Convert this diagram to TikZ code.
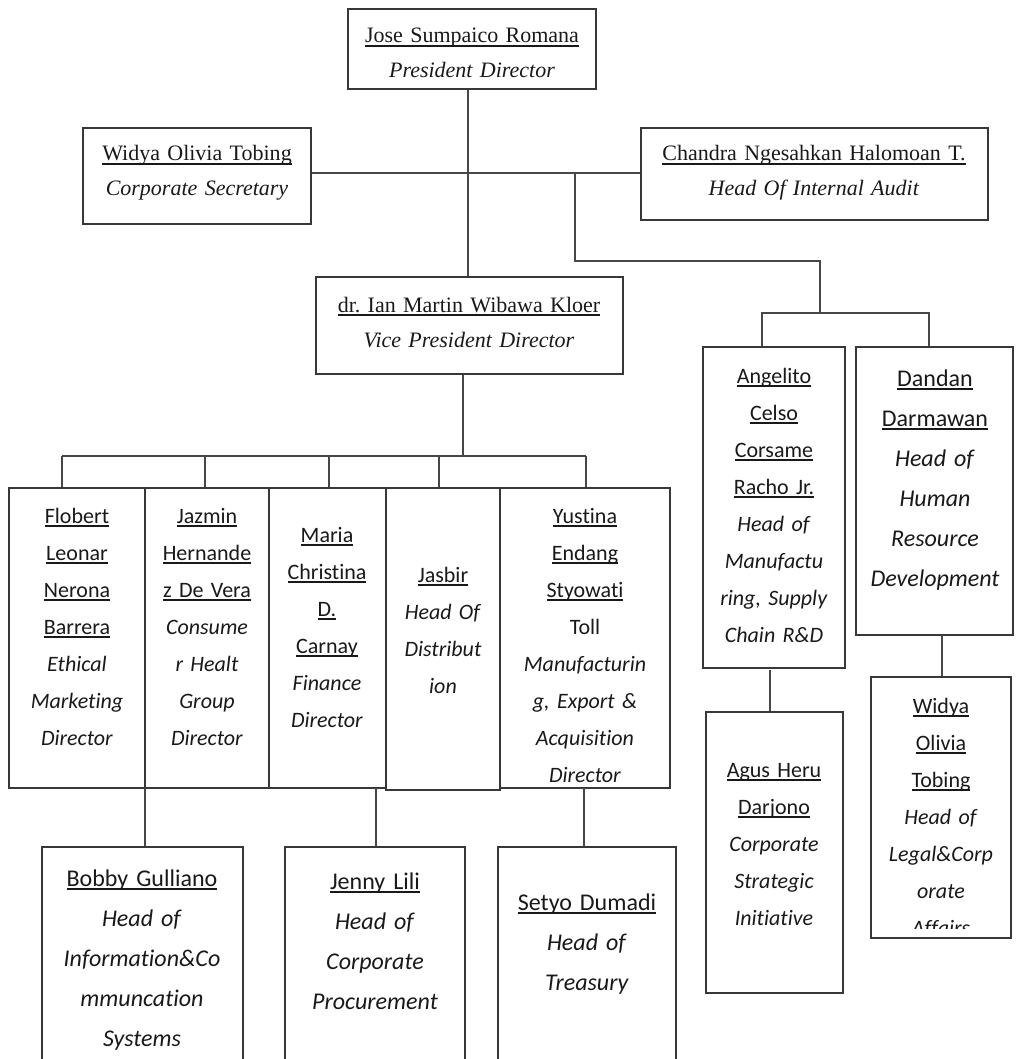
\documentclass[tikz,border=0pt]{standalone}
\usepackage{fontspec}
\setmainfont[Ligatures=NoCommon]{Carlito}
\newfontfamily\tnr{Liberation Serif}
\usetikzlibrary{fit}
\frenchspacing
\newcommand\uln[1]{\leavevmode\setbox0=\hbox{#1}\rlap{\rule[-0.16em]{\wd0}{0.07em}}\box0}
\tikzset{
 box/.style={draw=black!78, line width=1.6pt, inner sep=0pt},
 conn/.style={draw=black!72, line width=1.6pt},
 stxt/.style={inner sep=0pt, text width=190pt, align=center, anchor=base, text=black!90, font=\fontsize{22}{37}\selectfont},
 btxt/.style={stxt, font=\fontsize{24}{40}\selectfont},
 rtxt/.style={inner sep=0pt, text width=340pt, align=center, anchor=base, text=black!90, font=\tnr\fontsize{22}{35}\selectfont},
}
\begin{document}
\begin{tikzpicture}[x=1pt,y=-1pt]
\path[use as bounding box, clip] (0,0) rectangle (1016,1059);
% top level
\node[box, fit={(348,9)(596,89)}] (pres) {};
\node[rtxt] (tpres) at (472,43) {\uln{Jose Sumpaico Romana}\\\textit{President Director}};
\node[box, fit={(83,128)(311,224)}] (sec) {};
\node[rtxt] (tsec) at (197,161) {\uln{Widya Olivia Tobing}\\\textit{Corporate Secretary}};
\node[box, fit={(641,128)(988,220)}] (aud) {};
\node[rtxt] (taud) at (814,161) {\uln{Chandra Ngesahkan Halomoan T.}\\\textit{Head Of Internal Audit}};
\node[box, fit={(316,277)(623,374)}] (vp) {};
\node[rtxt] (tvp) at (469,312) {\uln{dr. Ian Martin Wibawa Kloer}\\\textit{Vice President Director}};
% directors row
\node[box, fit={(9,488)(145,788)}] (flo) {};
\node[stxt] (tflo) at (77,523) {\uln{Flobert}\\\uln{Leonar}\\\uln{Nerona}\\\uln{Barrera}\\\textit{Ethical}\\\textit{Marketing}\\\textit{Director}};
\node[box, fit={(145,488)(269,788)}] (jaz) {};
\node[stxt] (tjaz) at (207,523) {\uln{Jazmin}\\\uln{Hernande}\\\uln{z De Vera}\\\textit{Consume}\\\textit{r Healt}\\\textit{Group}\\\textit{Director}};
\node[box, fit={(269,488)(386,788)}] (mar) {};
\node[stxt] (tmar) at (327,542) {\uln{Maria}\\\uln{Christina}\\\uln{D.}\\\uln{Carnay}\\\textit{Finance}\\\textit{Director}};
\node[box, fit={(386,488)(500,790)}] (jas) {};
\node[stxt] (tjas) at (443,582) {\uln{Jasbir}\\\textit{Head Of}\\\textit{Distribut}\\\textit{ion}};
\node[box, fit={(500,488)(670,788)}] (yus) {};
\node[stxt] (tyus) at (585,523) {\uln{Yustina}\\\uln{Endang}\\\uln{Styowati}\\Toll\\\textit{Manufacturin}\\\textit{g, Export \&}\\\textit{Acquisition}\\\textit{Director}};
% right branch
\node[box, fit={(703,347)(845,668)}] (ang) {};
\node[stxt] (tang) at (774,383) {\uln{Angelito}\\\uln{Celso}\\\uln{Corsame}\\\uln{Racho Jr.}\\\textit{Head of}\\\textit{Manufactu}\\\textit{ring, Supply}\\\textit{Chain R\&D}};
\node[box, fit={(856,347)(1013,635)}] (dan) {};
\node[btxt] (tdan) at (935,386) {\uln{Dandan}\\\uln{Darmawan}\\\textit{Head of}\\\textit{Human}\\\textit{Resource}\\\textit{Development}};
\node[box, fit={(706,712)(843,993)}] (agu) {};
\node[stxt] (tagu) at (774,777) {\uln{Agus Heru}\\\uln{Darjono}\\\textit{Corporate}\\\textit{Strategic}\\\textit{Initiative}};
\node[box, fit={(871,677)(1011,938)}] (wid) {};
\begin{scope}
\clip (873,679) rectangle (1009,928);
\node[stxt] (twid) at (941,713) {\uln{Widya}\\\uln{Olivia}\\\uln{Tobing}\\\textit{Head of}\\\textit{Legal\&Corp}\\\textit{orate}\\\textit{Affairs}};
\end{scope}
% bottom row
\node[box, fit={(42,847)(243,1090)}] (bob) {};
\node[btxt] (tbob) at (142,886) {\uln{Bobby Gulliano}\\\textit{Head of}\\\textit{Information\&Co}\\\textit{mmuncation}\\\textit{Systems}};
\node[box, fit={(285,847)(465,1090)}] (jen) {};
\node[btxt] (tjen) at (375,889) {\uln{Jenny Lili}\\\textit{Head of}\\\textit{Corporate}\\\textit{Procurement}};
\node[box, fit={(498,847)(676,1090)}] (set) {};
\node[btxt] (tset) at (587,910) {\uln{Setyo Dumadi}\\\textit{Head of}\\\textit{Treasury}};
% connectors
\coordinate (hj) at (468,173);
\draw[conn] (pres.south -| hj) -- (vp.north -| hj);
\draw[conn] (sec.east |- hj) -- (aud.west |- hj);
\coordinate (b1) at (575,173);
\coordinate (b3) at (820,261);
\coordinate (b4) at (820,313);
\draw[conn] (b1) |- (b3) -- (b4);
\coordinate (rl) at (762,313);
\coordinate (rr) at (929,313);
\draw[conn] (rl |- ang.north) -- (rl) -- (rr) -- (rr |- dan.north);
\coordinate (vb) at (463,456);
\draw[conn] (vp.south -| vb) -- (vb);
\coordinate (d1) at (62,456);
\coordinate (d2) at (205,456);
\coordinate (d3) at (329,456);
\coordinate (d4) at (439,456);
\coordinate (d5) at (586,456);
\draw[conn] (d1) -- (d5);
\draw[conn] (d1) -- (d1 |- flo.north);
\draw[conn] (d2) -- (d2 |- jaz.north);
\draw[conn] (d3) -- (d3 |- mar.north);
\draw[conn] (d4) -- (d4 |- jas.north);
\draw[conn] (d5) -- (d5 |- yus.north);
\coordinate (c1) at (145,788);
\coordinate (c2) at (376,788);
\coordinate (c3) at (584,788);
\coordinate (c4) at (770,670);
\coordinate (c5) at (942,635);
\draw[conn] (c1) -- (c1 |- bob.north);
\draw[conn] (c2) -- (c2 |- jen.north);
\draw[conn] (c3) -- (c3 |- set.north);
\draw[conn] (c4) -- (c4 |- agu.north);
\draw[conn] (c5) -- (c5 |- wid.north);
\end{tikzpicture}
\end{document}
